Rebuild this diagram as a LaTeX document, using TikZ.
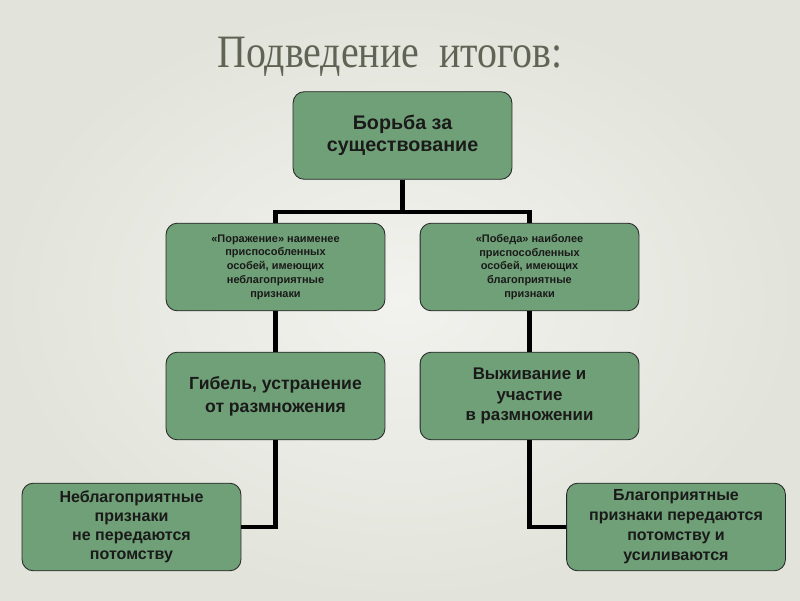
\documentclass[tikz,border=0pt]{standalone}
\usepackage{fontspec}
\setmainfont{Liberation Serif}
\setsansfont{Liberation Sans}
\usetikzlibrary{positioning}
\definecolor{fondo}{RGB}{242,242,238}
\definecolor{borde}{RGB}{226,228,219}
\definecolor{hoja}{RGB}{112,160,119}
\definecolor{titulo}{RGB}{96,100,84}
\definecolor{texto}{RGB}{26,26,26}

\begin{document}
\begin{tikzpicture}[x=0.025cm,y=-0.025cm,
  caja/.style={draw=black!85,line width=0.6pt,rounded corners=8pt,fill=hoja,
    minimum width=5.47cm,minimum height=2.19cm,align=center,
    text=texto,font=\sffamily\bfseries},
  enlace/.style={line width=3.3pt,black}]
  \useasboundingbox (0,0) rectangle (800,600);
  \shade[inner color=fondo,outer color=borde] (0,0) rectangle (800,600);
  \node[text=titulo,font=\fontsize{33}{36}\selectfont] (T) at (390,57) {\scalebox{0.86}[1]{Подведение\ \ итогов:}};
  \node[caja,font=\sffamily\bfseries\fontsize{14}{16}\selectfont] (lucha) at (402.5,135.5) {Борьба за\\существование};
  \node[caja,font=\sffamily\bfseries\fontsize{7.8}{9.8}\selectfont] (derrota) at (275.5,267) {«Поражение» наименее\\приспособленных\\особей, имеющих\\неблагоприятные\\признаки};
  \node[caja,font=\sffamily\bfseries\fontsize{7.8}{9.8}\selectfont] (victoria) at (529.5,267) {«Победа» наиболее\\приспособленных\\особей, имеющих\\благоприятные\\признаки};
  \node[caja,font=\sffamily\bfseries\fontsize{12.5}{16.5}\selectfont] (muerte) at (275.5,396) {Гибель, устранение\\от размножения};
  \node[caja,font=\sffamily\bfseries\fontsize{12}{14.6}\selectfont] (vida) at (529.5,396) {Выживание и\\участие\\в размножении};
  \node[caja,font=\sffamily\bfseries\fontsize{11.4}{13.6}\selectfont] (pierde) at (131.5,527) {Неблагоприятные\\признаки\\не передаются\\потомству};
  \node[caja,font=\sffamily\bfseries\fontsize{11.4}{14.2}\selectfont] (gana) at (676,527) {Благоприятные\\признаки передаются\\потомству и\\усиливаются};
  \coordinate (bus) at (402.5,212);
  \draw[enlace] (lucha.south) -- (bus);
  \draw[enlace] (derrota.north) -- (derrota.north |- bus) -- (victoria.north |- bus) -- (victoria.north);
  \draw[enlace] (derrota) -- (muerte);
  \draw[enlace] (victoria) -- (vida);
  \draw[enlace] (muerte.south) |- (pierde.east);
  \draw[enlace] (vida.south) |- (gana.west);
\end{tikzpicture}
\end{document}
